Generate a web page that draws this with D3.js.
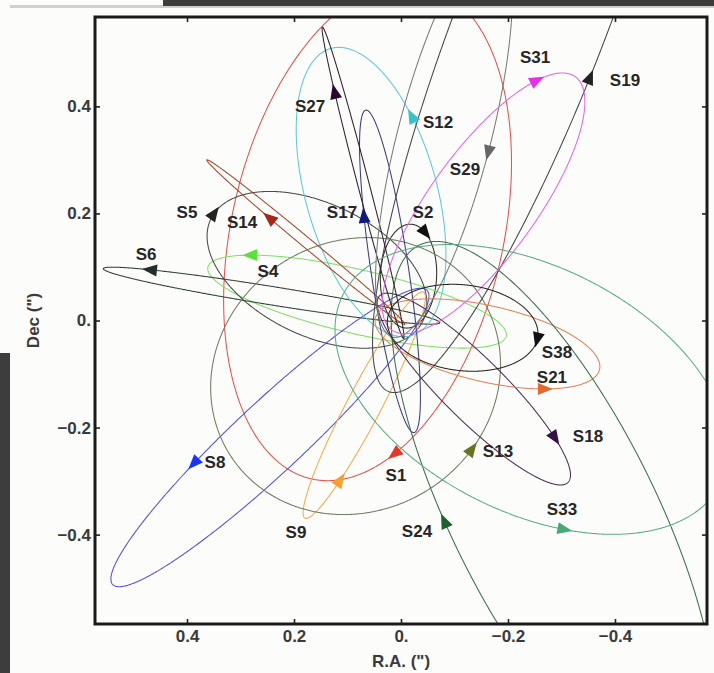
<!DOCTYPE html>
<html>
<head>
<meta charset="utf-8">
<script src="https://cdn.jsdelivr.net/npm/d3@7"></script>
<style>
  html, body { margin: 0; padding: 0; background: #fcfcfa; }
  svg { display: block; }
</style>
</head>
<body>
<svg id="chart" width="714" height="673"></svg>
<script>
// S-star orbits around Sgr A*: Keplerian elements per star
const stars    = ["S1","S2","S4","S5","S6","S8","S9","S12","S13","S14","S17","S18","S19","S21","S24","S27","S29","S31","S33","S38"];
const semiMajor = [0.520,0.123,0.298,0.250,0.436,0.411,0.293,0.2987,0.297,0.256,0.311,0.250,0.794,0.218,1.060,0.454,0.397,0.296,0.395,0.1416]; // arcsec
const ecc       = [0.496,0.880,0.406,0.842,0.886,0.824,0.825,0.8883,0.490,0.963,0.364,0.759,0.844,0.784,0.9405,0.952,0.916,0.917,0.700,0.8201];
const incl      = [120.82,135.25,77.83,143.7,86.44,74.01,81.00,33.56,24.7,97.3,96.83,110.67,71.96,58.8,106.30,92.91,122,146,35.6,171.1];   // deg
const node      = [341.61,225.39,258.11,109,83.46,315.90,147.58,230.1,74.5,227.74,188.06,43.0,344.60,262.0,4.2,191.7,157.0,130.6,67,101.06]; // deg
const periArg   = [122.3,63.56,316.4,236,129.5,345.2,225.2,317.9,248.2,339.0,326.0,349.46,155.2,166.4,292.6,308,342,343,354.1,17.99];       // deg

// Current position marked on each orbit (R.A., Dec offsets in arcsec)
const markRA  = [0.015,-0.0486,0.2822,0.3533,0.4692,0.3907,0.114,-0.0168,-0.1252,0.2486,0.0673,-0.3009,-0.357,-0.2692,-0.0822,0.1234,-0.1664,-0.2505,-0.3065,-0.2542];
const markDec = [-0.2449,0.1664,0.129,0.2037,0.0991,-0.2654,-0.2972,0.3813,-0.2355,0.1888,0.1963,-0.2112,0.4542,-0.1421,-0.3757,0.428,0.314,0.4561,-0.3869,-0.0355];

// Name label anchors (arcsec)
const labelRA  = [0.0094,-0.0411,0.2486,0.4000,0.4766,0.3477,0.1963,-0.0692,-0.1813,0.2972,0.1103,-0.3495,-0.4187,-0.2822,-0.0299,0.1701,-0.1196,-0.2505,-0.3009,-0.2916];
const labelDec = [-0.2897,0.2019,0.0916,0.2019,0.1234,-0.2654,-0.3963,0.3701,-0.2449,0.1832,0.2019,-0.2168,0.4486,-0.1065,-0.3944,0.4000,0.2822,0.4916,-0.3533,-0.0598];

const lineColors = ["#e2544c","#2a2a2a","#80e066","#4a4a4a","#2f3f38","#5050e0","#f2aa50","#5ccbd0","#6e7e60","#a5442e","#3a3c80","#4a3050","#454545","#e0845a","#3e6e4e","#2e202e","#7a7a7a","#e266ea","#5aab8a","#262626"];
const markColors = ["#e23a28","#111111","#5ce03a","#222222","#1e3028","#1a36f0","#f2a030","#38c2c8","#6a7420","#a22818","#101a78","#321040","#222222","#e26a30","#1e6030","#2a0a2a","#666666","#e232ea","#48aa78","#111111"];

const xTicks = [0.4, 0.2, 0, -0.2, -0.4];
const yTicks = [0.4, 0.2, 0, -0.2, -0.4];
const tickLabels = ["0.4", "0.2", "0.", "\u22120.2", "\u22120.4"];

const W = 714, H = 673;
const plot = { left: 95, right: 707, top: 17, bottom: 624 };
const FONT = "Liberation Sans, Arial, sans-serif";

const svg = d3.select("#chart");

// window chrome around the figure
svg.append("rect").attr("x", 0).attr("y", 0).attr("width", W).attr("height", H).attr("fill", "#fcfcfa");
svg.append("rect").attr("x", 10).attr("y", 5).attr("width", W - 10).attr("height", 3).attr("fill", "#cfcfcc");
svg.append("rect").attr("x", 163).attr("y", 0).attr("width", W - 163).attr("height", 6).attr("fill", "#3d3d3d");
svg.append("rect").attr("x", 0).attr("y", 353).attr("width", 10).attr("height", H - 353).attr("fill", "#3d3d3d");

// R.A. grows to the east (left)
const x = d3.scaleLinear().domain([0.572, -0.572]).range([plot.left, plot.right]);
const y = d3.scaleLinear().domain([-0.567, 0.567]).range([plot.bottom, plot.top]);

svg.append("clipPath").attr("id", "plotClip")
  .append("rect")
  .attr("x", plot.left).attr("y", plot.top)
  .attr("width", plot.right - plot.left).attr("height", plot.bottom - plot.top);

const rad = Math.PI / 180;
const N = 900;

// Sky-projected orbit traced by eccentric anomaly (Thiele-Innes constants)
function orbit(k) {
  const a = semiMajor[k], e = ecc[k];
  const i = incl[k] * rad, O = node[k] * rad, w = periArg[k] * rad;
  const A = a * (Math.cos(w) * Math.cos(O) - Math.sin(w) * Math.sin(O) * Math.cos(i));
  const B = a * (Math.cos(w) * Math.sin(O) + Math.sin(w) * Math.cos(O) * Math.cos(i));
  const F = a * (-Math.sin(w) * Math.cos(O) - Math.cos(w) * Math.sin(O) * Math.cos(i));
  const G = a * (-Math.sin(w) * Math.sin(O) + Math.cos(w) * Math.cos(O) * Math.cos(i));
  const s = Math.sqrt(1 - e * e);
  return d3.range(N).map(j => {
    const E = 2 * Math.PI * j / N;
    const X = Math.cos(E) - e, Y = s * Math.sin(E);
    return { ra: B * X + G * Y, dec: A * X + F * Y };
  });
}

const orbits = stars.map((s, k) => orbit(k));

const line = d3.line().x(d => x(d.ra)).y(d => y(d.dec)).curve(d3.curveLinearClosed);

const g = svg.append("g").attr("clip-path", "url(#plotClip)");

g.selectAll("path.orbit")
  .data(orbits)
  .join("path")
  .attr("class", "orbit")
  .attr("d", line)
  .attr("fill", "none")
  .attr("stroke", (d, k) => lineColors[k])
  .attr("stroke-width", 1.05);

// direction-of-motion arrowheads at the marked positions
const marks = stars.map((s, k) => {
  const pts = orbits[k];
  const mx = x(markRA[k]), my = y(markDec[k]);
  let best = 0, bd = Infinity;
  pts.forEach((p, j) => {
    const d = (x(p.ra) - mx) ** 2 + (y(p.dec) - my) ** 2;
    if (d < bd) { bd = d; best = j; }
  });
  const p0 = pts[(best - 2 + N) % N], p1 = pts[(best + 2) % N];
  const ang = Math.atan2(y(p1.dec) - y(p0.dec), x(p1.ra) - x(p0.ra)) / rad;
  return { k, px: x(pts[best].ra), py: y(pts[best].dec), ang };
});

g.selectAll("path.mark")
  .data(marks)
  .join("path")
  .attr("class", "mark")
  .attr("d", "M8,0 L-7,-6 L-7,6 Z")
  .attr("transform", d => `translate(${d.px},${d.py}) rotate(${d.ang})`)
  .attr("fill", d => markColors[d.k]);

svg.append("g").selectAll("text.star")
  .data(stars)
  .join("text")
  .attr("class", "star")
  .attr("x", (d, k) => x(labelRA[k]))
  .attr("y", (d, k) => y(labelDec[k]))
  .attr("text-anchor", "middle")
  .attr("dominant-baseline", "central")
  .attr("font-family", FONT)
  .attr("font-weight", "bold")
  .attr("font-size", 17)
  .attr("fill", "#262626")
  .text(d => d);

// frame axes with inward ticks on all four sides
const fmtX = v => tickLabels[xTicks.indexOf(v)];
const fmtY = v => tickLabels[yTicks.indexOf(v)];

function styleAxis(sel) {
  sel.select(".domain").remove();
  sel.selectAll(".tick line").attr("stroke", "#222").attr("stroke-width", 1.6);
  sel.selectAll(".tick text")
    .attr("font-family", FONT)
    .attr("font-weight", "bold")
    .attr("font-size", 17)
    .attr("fill", "#3a3a3a");
}

svg.append("g").attr("transform", `translate(0,${plot.bottom})`)
  .call(d3.axisBottom(x).tickValues(xTicks).tickFormat(fmtX).tickSize(-5).tickPadding(6))
  .call(styleAxis);
svg.append("g").attr("transform", `translate(0,${plot.top})`)
  .call(d3.axisTop(x).tickValues(xTicks).tickFormat("").tickSize(-5))
  .call(styleAxis);
svg.append("g").attr("transform", `translate(${plot.left},0)`)
  .call(d3.axisLeft(y).tickValues(yTicks).tickFormat(fmtY).tickSize(-5).tickPadding(4))
  .call(styleAxis);
svg.append("g").attr("transform", `translate(${plot.right},0)`)
  .call(d3.axisRight(y).tickValues(yTicks).tickFormat("").tickSize(-5))
  .call(styleAxis);

svg.append("rect")
  .attr("x", plot.left).attr("y", plot.top)
  .attr("width", plot.right - plot.left).attr("height", plot.bottom - plot.top)
  .attr("fill", "none").attr("stroke", "#1a1a1a").attr("stroke-width", 3);

svg.append("text")
  .attr("x", (plot.left + plot.right) / 2).attr("y", 661)
  .attr("text-anchor", "middle").attr("dominant-baseline", "central")
  .attr("font-family", FONT)
  .attr("font-weight", "bold").attr("font-size", 17).attr("fill", "#3a3a3a")
  .text("R.A. (\")");

svg.append("text")
  .attr("transform", `translate(33,${(plot.top + plot.bottom) / 2}) rotate(-90)`)
  .attr("text-anchor", "middle").attr("dominant-baseline", "central")
  .attr("font-family", FONT)
  .attr("font-weight", "bold").attr("font-size", 17).attr("fill", "#3a3a3a")
  .text("Dec (\")");
</script>
</body>
</html>
